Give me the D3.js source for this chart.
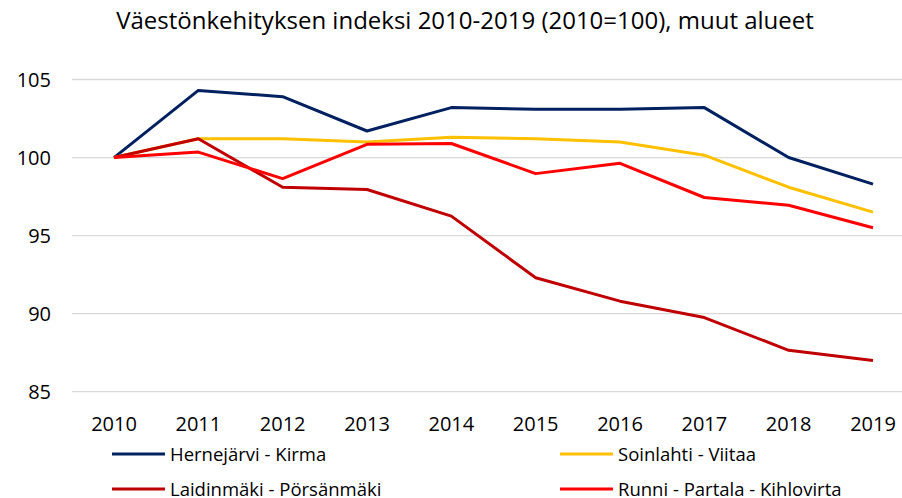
<!DOCTYPE html>
<html>
<head>
<meta charset="utf-8">
<script src="https://cdn.jsdelivr.net/npm/d3@7"></script>
<style>
  body { margin: 0; background: #fff; }
  text { font-family: "Open Sans", "Noto Sans", sans-serif; fill: #000; }
</style>
</head>
<body>
<div id="chart"></div>
<script>
// väestöindeksi, muut alueet
var years = ["2010", "2011", "2012", "2013", "2014", "2015", "2016", "2017", "2018", "2019"];
var yTicks = [85, 90, 95, 100, 105];

var hernejarvi = [100, 104.3, 103.9, 101.7, 103.2, 103.1, 103.1, 103.2, 100.0, 98.3];
var soinlahti = [100, 101.2, 101.2, 101.0, 101.3, 101.2, 101.0, 100.15, 98.1, 96.5];
var laidinmaki = [100, 101.2, 98.1, 97.95, 96.25, 92.3, 90.8, 89.75, 87.65, 87.0];
var runni = [100, 100.35, 98.65, 100.85, 100.9, 98.97, 99.63, 97.44, 96.94, 95.5];

var names = ["Hernejärvi - Kirma", "Soinlahti - Viitaa", "Laidinmäki - Pörsänmäki", "Runni - Partala - Kihlovirta"];
var seriesData = [hernejarvi, soinlahti, laidinmaki, runni];
var colors = ["#002060", "#FFC000", "#C00000", "#FF0000"];

var width = 902, height = 498;
var svg = d3.select("#chart").append("svg")
    .attr("width", width)
    .attr("height", height);

var x = d3.scalePoint()
    .domain(years)
    .range([114, 873]);

var y = d3.scaleLinear()
    .domain([85, 105])
    .range([391.7, 79.5]);

// title
svg.append("text")
    .attr("x", 465)
    .attr("y", 29)
    .attr("text-anchor", "middle")
    .style("font-size", "24px")
    .text("Väestönkehityksen indeksi 2010-2019 (2010=100), muut alueet");

// grid
svg.append("g")
    .selectAll("line")
    .data(yTicks)
    .join("line")
    .attr("x1", 72)
    .attr("x2", 902)
    .attr("y1", d => y(d))
    .attr("y2", d => y(d))
    .style("stroke", "#d9d9d9")
    .style("stroke-width", 1.3);

// y labels
svg.append("g")
    .selectAll("text")
    .data(yTicks)
    .join("text")
    .attr("x", 51)
    .attr("y", d => y(d) + 7)
    .attr("text-anchor", "end")
    .style("font-size", "20px")
    .text(d => d);

// x labels
svg.append("g")
    .selectAll("text")
    .data(years)
    .join("text")
    .attr("x", d => x(d))
    .attr("y", 431)
    .attr("text-anchor", "middle")
    .style("font-size", "20px")
    .text(d => d);

var line = d3.line()
    .x((d, i) => x(years[i]))
    .y(d => y(d));

// draw order: navy, yellow, dark red, red
svg.append("g")
    .selectAll("path")
    .data(seriesData)
    .join("path")
    .attr("d", d => line(d))
    .attr("fill", "none")
    .attr("stroke", (d, i) => colors[i])
    .attr("stroke-width", 3)
    .attr("stroke-linejoin", "round");

// legend
var legPos = [[112, 454], [560, 454], [112, 489], [560, 489]];
for (var i = 0; i < 4; i++) {
    svg.append("line")
        .attr("x1", legPos[i][0])
        .attr("x2", legPos[i][0] + 53)
        .attr("y1", legPos[i][1])
        .attr("y2", legPos[i][1])
        .style("stroke", colors[i])
        .style("stroke-width", 3);

    svg.append("text")
        .attr("x", legPos[i][0] + 58)
        .attr("y", legPos[i][1] + 7)
        .style("font-size", "18.5px")
        .text(names[i]);
}
</script>
</body>
</html>
